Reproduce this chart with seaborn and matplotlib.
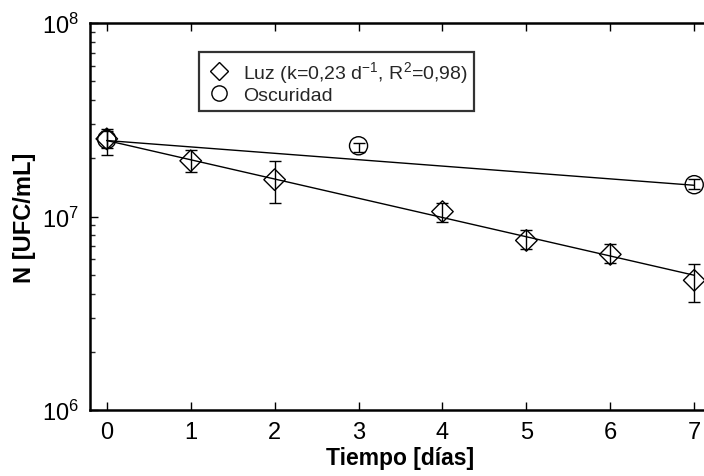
import numpy as np
import pandas as pd
import seaborn as sns
import matplotlib.pyplot as plt
from matplotlib.lines import Line2D

# data
luz_days = [0, 1, 2, 4, 5, 6, 7]
luz_n = [2.52e7, 1.94e7, 1.55e7, 1.06e7, 7.52e6, 6.37e6, 4.68e6]
luz_low = [2.09e7, 1.69e7, 1.18e7, 9.4e6, 6.76e6, 5.73e6, 3.61e6]
luz_high = [2.84e7, 2.21e7, 1.94e7, 1.18e7, 8.47e6, 7.18e6, 5.66e6]

osc_days = [0, 3, 7]
osc_n = [2.50e7, 2.32e7, 1.46e7]
osc_low = [2.25e7, 2.16e7, 1.38e7]
osc_high = [2.75e7, 2.41e7, 1.57e7]

# fitted lines (end points)
fit_days = [0, 7]
luz_fit = [2.47e7, 4.97e6]
osc_fit = [2.47e7, 1.45e7]

sns.set_theme(style='ticks')
plt.rcParams['font.family'] = ['Liberation Sans', 'DejaVu Sans']
plt.rcParams['mathtext.default'] = 'regular'

fig = plt.figure(figsize=(7.04, 4.77), dpi=100)
ax = fig.add_axes([90/704, 66/477, 621/704, 387/477])

fits = pd.DataFrame({'dia': fit_days * 2,
                     'N': luz_fit + osc_fit,
                     'serie': ['luz'] * 2 + ['osc'] * 2})
sns.lineplot(data=fits, x='dia', y='N', units='serie', estimator=None,
             color='black', lw=1, ax=ax, legend=False)

luz_err = [np.array(luz_n) - np.array(luz_low), np.array(luz_high) - np.array(luz_n)]
osc_err = [np.array(osc_n) - np.array(osc_low), np.array(osc_high) - np.array(osc_n)]
ax.errorbar(luz_days, luz_n, yerr=luz_err, fmt='none', ecolor='black',
            elinewidth=1, capsize=4.5, capthick=1)
ax.errorbar(osc_days, osc_n, yerr=osc_err, fmt='none', ecolor='black',
            elinewidth=1, capsize=4.5, capthick=1)

sns.scatterplot(x=luz_days, y=luz_n, marker='D', s=120, facecolor='none',
                edgecolor='black', linewidth=1, ax=ax)
sns.scatterplot(x=osc_days, y=osc_n, marker='o', s=170, facecolor='none',
                edgecolor='black', linewidth=1, ax=ax)

ax.set_yscale('log')
ax.set_ylim(1e6, 1e8)
ax.set_xlim(-0.2, 7.2)
ax.set_xticks(range(8))
ax.tick_params(axis='both', which='major', direction='in', length=6, width=1,
               labelsize=17, top=True, color='black', labelcolor='black', pad=8)
ax.tick_params(axis='y', which='minor', direction='in', length=3.5, width=1)
for s in ax.spines.values():
    s.set_linewidth(1.8)
    s.set_color('black')

ax.set_xlabel('Tiempo [días]', fontsize=16.5, fontweight='bold', labelpad=2,
              color='black')
ax.set_ylabel('N [UFC/mL]', fontsize=17, fontweight='bold', labelpad=4,
              color='black')

handles = [Line2D([], [], ls='none', marker='D', ms=9, mfc='none', mec='black', mew=1),
           Line2D([], [], ls='none', marker='o', ms=11, mfc='none', mec='black', mew=1)]
labels = ['Luz (k=0,23 d$^{-1}$, R$^{2}$=0,98)', 'Oscuridad']
leg = ax.legend(handles, labels, loc='upper left', bbox_to_anchor=(0.1755, 0.925),
                borderaxespad=0, fontsize=14, frameon=True, fancybox=False,
                handletextpad=0.5, labelspacing=0.1, borderpad=0.35, handlelength=1.4)
leg.get_frame().set_edgecolor('black')
leg.get_frame().set_linewidth(1.6)

fig.savefig('out.png', dpi=100)
